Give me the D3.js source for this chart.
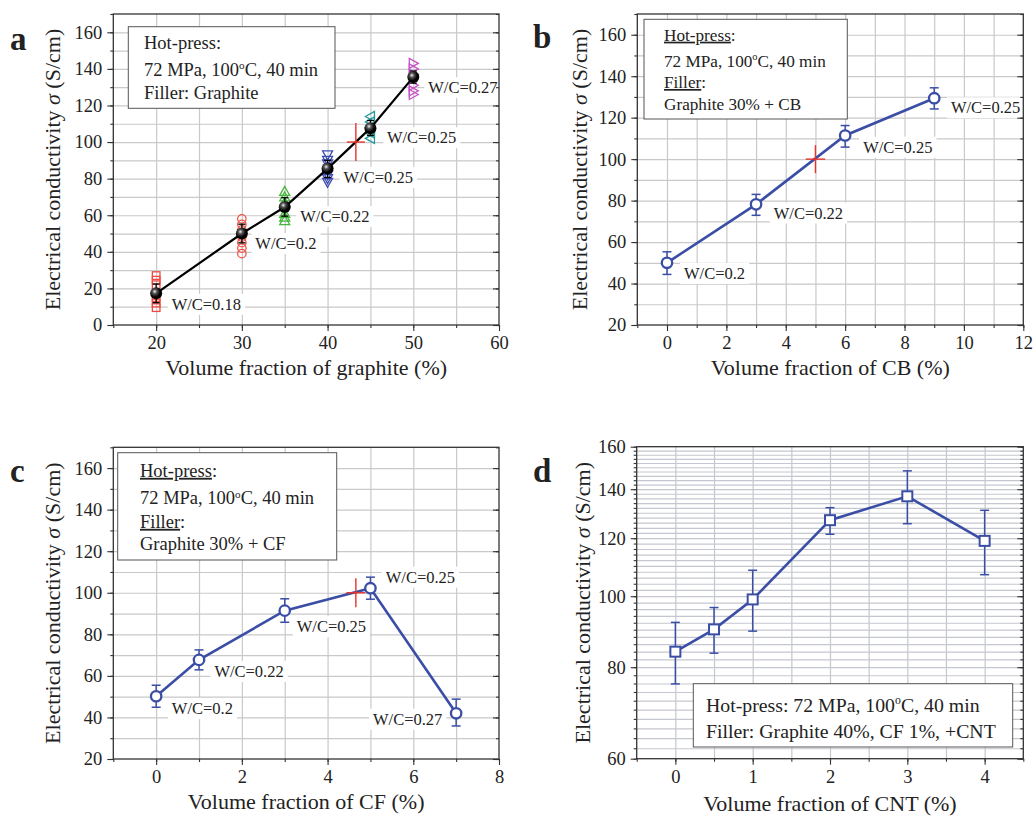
<!DOCTYPE html>
<html>
<head>
<meta charset="utf-8">
<script src="https://cdn.jsdelivr.net/npm/d3@7"></script>
<style>
  body { margin: 0; background: #fff; }
  text { font-family: "Liberation Serif", "Times New Roman", serif; fill: #222; }
</style>
</head>
<body>
<script>
// ---- panel a: graphite only
var graphiteFrac = [20, 30, 35, 40, 45, 50]
var graphiteMean = [17.3, 50, 64.5, 85.5, 107.6, 135.5]
var graphiteLo = [12.2, 44.9, 59.5, 80.6, 103.6, 132.2]
var graphiteHi = [22.4, 55.1, 69.6, 90.0, 111.8, 138.8]
var graphiteWC = ["W/C=0.18", "W/C=0.2", "W/C=0.22", "W/C=0.25", "W/C=0.25", "W/C=0.27"]
// individual samples at each graphite fraction
var graphiteSamples = [
  [27, 24.5, 22, 15, 12, 9.5],
  [58, 55, 52, 48, 45, 42, 39],
  [73, 70, 67, 61, 59, 57],
  [93, 90, 88, 82, 80, 78],
  [114, 111, 108, 105, 102],
  [143, 140, 137, 131, 128, 126]
]
var graphiteTarget = [43.3, 100]
var notesA = ["Hot-press:", "72 MPa, 100°C, 40 min", "Filler: Graphite"]

// ---- panel b: graphite 30% + CB
var cbFrac = [0, 3, 6, 9]
var cbMean = [50, 78.2, 111.4, 129.4]
var cbLo = [44.4, 72.9, 105.8, 124.2]
var cbHi = [55.3, 83.0, 116.2, 134.4]
var cbWC = ["W/C=0.2", "W/C=0.22", "W/C=0.25", "W/C=0.25"]
var cbTarget = [5, 100]
var notesB = ["Hot-press:", "72 MPa, 100°C, 40 min", "Filler:", "Graphite 30% + CB"]

// ---- panel c: graphite 30% + CF
var cfFrac = [0, 1, 3, 5, 7]
var cfMean = [50.2, 67.7, 91.4, 102.2, 42.0]
var cfLo = [44.9, 62.9, 85.8, 96.9, 35.9]
var cfHi = [55.5, 72.5, 97.1, 107.5, 48.8]
var cfWC = ["W/C=0.2", "W/C=0.22", "W/C=0.25", "W/C=0.25", "W/C=0.27"]
var cfTarget = [4.66, 100]
var notesC = ["Hot-press:", "72 MPa, 100°C, 40 min", "Filler:", "Graphite 30% + CF"]

// ---- panel d: graphite 40%, CF 1%, + CNT (log y)
var cntFrac = [0, 0.5, 1, 2, 3, 4]
var cntMean = [84.0, 90.1, 99.0, 127.0, 136.9, 119.0]
var cntLo = [75.9, 83.6, 89.6, 121.5, 125.6, 107.0]
var cntHi = [92.1, 96.5, 108.5, 132.1, 148.3, 131.0]
var notesD = ["Hot-press: 72 MPa, 100°C, 40 min", "Filler: Graphite 40%, CF 1%, +CNT"]

var yTitle = "Electrical conductivity"

var BLUE = "#3b4ea5", GRID = "#c9c9c9", FRAME = "#333"

var svg = d3.select("body").append("svg")
  .attr("width", 1033)
  .attr("height", 816)

var defs = svg.append("defs")
var grad = defs.append("radialGradient").attr("id", "ball")
  .attr("cx", "38%").attr("cy", "35%").attr("r", "65%")
grad.append("stop").attr("offset", "0%").attr("stop-color", "#f4f4f4")
grad.append("stop").attr("offset", "28%").attr("stop-color", "#555")
grad.append("stop").attr("offset", "70%").attr("stop-color", "#000")

function range(a, b, s) {
  return d3.range(a, b + s / 2, s)
}

// write a text line, with superscript "o" for the degree sign and an optional underlined head
function writeLine(t, str, underline) {
  if (underline && str.endsWith(":")) {
    t.append("tspan").attr("text-decoration", "underline").text(str.slice(0, -1))
    t.append("tspan").text(":")
    return
  }
  var parts = str.split("°")
  parts.forEach(function (p, i) {
    if (i > 0) {
      t.append("tspan").attr("dy", "-0.6em").attr("font-size", "0.6em").text("o")
      t.append("tspan").attr("dy", "0.36em").text(p)
    } else {
      t.append("tspan").text(p)
    }
  })
}

function drawPanel(cfg) {
  var x = cfg.x, y = cfg.y
  var x0 = x.range()[0], x1 = x.range()[1]
  var yb = y.range()[0], yt = y.range()[1]
  var g = svg.append("g")

  // gridlines
  g.append("g").attr("transform", "translate(0," + yb + ")")
    .call(d3.axisBottom(x).tickValues(cfg.xGrid).tickSize(-(yb - yt)).tickFormat(""))
    .call(function (s) { s.select(".domain").remove() })
    .selectAll("line").attr("stroke", cfg.gridColor || GRID).attr("stroke-width", 1.2)
  g.append("g").attr("transform", "translate(" + x0 + ",0)")
    .call(d3.axisLeft(y).tickValues(cfg.yGrid).tickSize(-(x1 - x0)).tickFormat(""))
    .call(function (s) { s.select(".domain").remove() })
    .selectAll("line").attr("stroke", cfg.gridColor || GRID).attr("stroke-width", 1.2)

  // point labels with white background
  cfg.labels.forEach(function (lb) {
    var px = x(lb.at[0]) + lb.dx, py = y(lb.at[1]) + lb.dy
    var lg = g.append("g")
    var t = lg.append("text")
      .attr("x", px).attr("y", py + 5.5)
      .attr("text-anchor", lb.anchor || "start")
      .style("font-size", "16.5px")
      .text(lb.text)
    var bb = t.node().getBBox()
    lg.insert("rect", "text")
      .attr("x", bb.x - 4).attr("y", bb.y - 1)
      .attr("width", bb.width + 8).attr("height", bb.height + 2)
      .attr("fill", "#fff")
  })

  // notes box
  var nb = cfg.notes
  g.append("rect")
    .attr("x", nb.box[0]).attr("y", nb.box[1])
    .attr("width", nb.box[2] - nb.box[0]).attr("height", nb.box[3] - nb.box[1])
    .attr("fill", "#fff").attr("stroke", "#555").attr("stroke-width", 1)
  nb.lines.forEach(function (ln, i) {
    var t = g.append("text")
      .attr("x", nb.tx).attr("y", nb.ty[i] + nb.size * 0.33)
      .style("font-size", nb.size + "px")
    writeLine(t, ln, nb.underline)
  })

  cfg.draw(g, x, y)

  // ticks
  function tickAxis(axis, tr, vals, size, labels) {
    var a = g.append("g").attr("transform", tr)
      .call(axis.tickValues(vals).tickSize(size).tickPadding(5)
        .tickFormat(labels ? d3.format("d") : ""))
    a.select(".domain").remove()
    a.selectAll("line").attr("stroke", FRAME).attr("stroke-width", 1.1)
    a.selectAll("text").attr("font-family", null).style("font-size", "18.5px").attr("fill", "#222")
    return a
  }
  tickAxis(d3.axisBottom(x), "translate(0," + yb + ")", cfg.xMinor, 3, false)
  tickAxis(d3.axisBottom(x), "translate(0," + yb + ")", cfg.xMajor, 6, true)
  tickAxis(d3.axisLeft(y), "translate(" + x0 + ",0)", cfg.yMinor, 3, false)
  tickAxis(d3.axisLeft(y), "translate(" + x0 + ",0)", cfg.yMajor, 6, true)
  tickAxis(d3.axisLeft(y), "translate(" + x1 + ",0)", cfg.yMinor, 3, false)
  tickAxis(d3.axisLeft(y), "translate(" + x1 + ",0)", cfg.yMajor, 6, false)

  // frame
  g.append("rect")
    .attr("x", x0).attr("y", yt).attr("width", x1 - x0).attr("height", yb - yt)
    .attr("fill", "none").attr("stroke", FRAME).attr("stroke-width", 1.3)

  // axis titles
  g.append("text")
    .attr("x", (x0 + x1) / 2).attr("y", cfg.xTitleY + 7)
    .attr("text-anchor", "middle").style("font-size", "22px")
    .text(cfg.xTitle)
  var yt2 = g.append("text")
    .attr("transform", "translate(" + (cfg.yTitleX + 7) + "," + ((yb + yt) / 2) + ") rotate(-90)")
    .attr("text-anchor", "middle").style("font-size", "22px")
  yt2.append("tspan").text(yTitle + " ")
  yt2.append("tspan").style("font-style", "italic").text("σ")
  yt2.append("tspan").text(" (S/cm)")

  // panel letter
  g.append("text")
    .attr("x", cfg.letter[0]).attr("y", cfg.letter[1])
    .style("font-size", "33px").style("font-weight", "bold")
    .text(cfg.letter[2])
}

// blue series: line, error bars, open markers
function blueSeries(xs, ys, lo, hi, marker) {
  return function (g, x, y) {
    var pts = xs.map(function (v, i) { return [v, ys[i]] })
    g.append("path").datum(pts)
      .attr("d", d3.line().x(function (d) { return x(d[0]) }).y(function (d) { return y(d[1]) }))
      .attr("fill", "none").attr("stroke", BLUE).attr("stroke-width", 2.6)
    xs.forEach(function (v, i) {
      var cx = x(v)
      g.append("line").attr("x1", cx).attr("x2", cx).attr("y1", y(lo[i])).attr("y2", y(hi[i]))
        .attr("stroke", BLUE).attr("stroke-width", 1.5)
      ;[lo[i], hi[i]].forEach(function (e) {
        g.append("line").attr("x1", cx - 4.5).attr("x2", cx + 4.5).attr("y1", y(e)).attr("y2", y(e))
          .attr("stroke", BLUE).attr("stroke-width", 1.5)
      })
      if (marker === "square") {
        g.append("rect").attr("x", cx - 5).attr("y", y(ys[i]) - 5).attr("width", 10).attr("height", 10)
          .attr("fill", "#fff").attr("stroke", BLUE).attr("stroke-width", 2)
      } else {
        g.append("circle").attr("cx", cx).attr("cy", y(ys[i])).attr("r", 5.2)
          .attr("fill", "#fff").attr("stroke", BLUE).attr("stroke-width", 2.3)
      }
    })
  }
}

function redCross(g, x, y, pt, hx, hy) {
  var cx = x(pt[0]), cy = y(pt[1])
  g.append("line").attr("x1", cx - hx).attr("x2", cx + hx).attr("y1", cy).attr("y2", cy)
    .attr("stroke", "#e8322a").attr("stroke-width", 1.4)
  g.append("line").attr("x1", cx).attr("x2", cx).attr("y1", cy - hy).attr("y2", cy + hy)
    .attr("stroke", "#e8322a").attr("stroke-width", 1.4)
}

function lbls(xs, ys, texts, offs) {
  return texts.map(function (t, i) {
    var o = offs[i]
    return { text: t, at: [xs[i], ys[i]], dx: o[0], dy: o[1], anchor: o[2] }
  })
}

// ---------- panel a
var sampleStyle = [
  { shape: "square", color: "#ee4a42" },
  { shape: "circle", color: "#ef5448" },
  { shape: "up", color: "#46b53c" },
  { shape: "down", color: "#3b4cb2" },
  { shape: "left", color: "#23999a" },
  { shape: "right", color: "#c852c9" }
]
var shapePath = {
  up: "M0,-5L5,4L-5,4Z",
  down: "M0,5L5,-4L-5,-4Z",
  left: "M-5,0L4,-5L4,5Z",
  right: "M5,0L-4,-5L-4,5Z"
}

drawPanel({
  x: d3.scaleLinear().domain([15, 60]).range([113.3, 499]),
  y: d3.scaleLinear().domain([0, 170]).range([325, 14]),
  xGrid: range(20, 55, 5), yGrid: range(10, 160, 10),
  xMajor: range(20, 60, 10), xMinor: range(15, 60, 5),
  yMajor: range(0, 160, 20), yMinor: range(0, 170, 10),
  xTitle: "Volume fraction of graphite (%)", xTitleY: 368.3, yTitleX: 53.3,
  letter: [10, 50, "a"],
  labels: lbls(graphiteFrac, graphiteMean, graphiteWC,
    [[15.5, 11], [13.5, 10], [15.5, 9.5], [16, 9], [16.5, 9.6], [15, 10.6]]),
  notes: { box: [128.3, 26.7, 335, 108.3], tx: 144, ty: [42.7, 70, 92.7], size: 18.5, lines: notesA },
  draw: function (g, x, y) {
    graphiteSamples.forEach(function (vals, i) {
      var st = sampleStyle[i], cx = x(graphiteFrac[i])
      vals.forEach(function (v) {
        var cy = y(v)
        if (st.shape === "square") {
          g.append("rect").attr("x", cx - 3.8).attr("y", cy - 3.8).attr("width", 7.6).attr("height", 7.6)
            .attr("fill", "none").attr("stroke", st.color).attr("stroke-width", 1.3)
        } else if (st.shape === "circle") {
          g.append("circle").attr("cx", cx).attr("cy", cy).attr("r", 4.2)
            .attr("fill", "none").attr("stroke", st.color).attr("stroke-width", 1.3)
        } else {
          g.append("path").attr("transform", "translate(" + cx + "," + cy + ")")
            .attr("d", shapePath[st.shape])
            .attr("fill", "none").attr("stroke", st.color).attr("stroke-width", 1.3)
        }
      })
    })
    var pts = graphiteFrac.map(function (v, i) { return [v, graphiteMean[i]] })
    g.append("path").datum(pts)
      .attr("d", d3.line().x(function (d) { return x(d[0]) }).y(function (d) { return y(d[1]) }))
      .attr("fill", "none").attr("stroke", "#000").attr("stroke-width", 2.2)
    redCross(g, x, y, graphiteTarget, 9, 19)
    graphiteFrac.forEach(function (v, i) {
      var cx = x(v)
      g.append("line").attr("x1", cx).attr("x2", cx).attr("y1", y(graphiteLo[i])).attr("y2", y(graphiteHi[i]))
        .attr("stroke", "#000").attr("stroke-width", 1.3)
      ;[graphiteLo[i], graphiteHi[i]].forEach(function (e) {
        g.append("line").attr("x1", cx - 3.5).attr("x2", cx + 3.5).attr("y1", y(e)).attr("y2", y(e))
          .attr("stroke", "#000").attr("stroke-width", 1.3)
      })
      g.append("circle").attr("cx", cx).attr("cy", y(graphiteMean[i])).attr("r", 6)
        .attr("fill", "url(#ball)")
    })
  }
})

// ---------- panel b
drawPanel({
  x: d3.scaleLinear().domain([-1, 12]).range([637.3, 1023.3]),
  y: d3.scaleLinear().domain([20, 170]).range([325, 14]),
  xGrid: range(0, 11, 1), yGrid: range(30, 160, 10),
  xMajor: range(0, 12, 2), xMinor: range(-1, 12, 1),
  yMajor: range(20, 160, 20), yMinor: range(20, 170, 10),
  xTitle: "Volume fraction of CB (%)", xTitleY: 368.3, yTitleX: 580,
  letter: [533, 48, "b"],
  labels: lbls(cbFrac, cbMean, cbWC, [[17, 10.6], [17.7, 8.7], [18, 11.7], [16.7, 9.6]]),
  notes: { box: [644, 19.3, 847.3, 119], tx: 664, ty: [35, 61, 82.3, 104.3], size: 17.2, lines: notesB, underline: true },
  draw: function (g, x, y) {
    blueSeries(cbFrac, cbMean, cbLo, cbHi, "circle")(g, x, y)
    redCross(g, x, y, cbTarget, 9.7, 14)
  }
})

// ---------- panel c
drawPanel({
  x: d3.scaleLinear().domain([-1, 8]).range([113.3, 499]),
  y: d3.scaleLinear().domain([20, 170]).range([759, 447.3]),
  xGrid: range(0, 7, 1), yGrid: range(30, 160, 10),
  xMajor: range(0, 8, 2), xMinor: range(-1, 8, 1),
  yMajor: range(20, 160, 20), yMinor: range(20, 170, 10),
  xTitle: "Volume fraction of CF (%)", xTitleY: 801.7, yTitleX: 53.3,
  letter: [10, 481.7, "c"],
  labels: lbls(cfFrac, cfMean, cfWC,
    [[15.7, 12.3], [15.4, 11.7], [12, 16], [15.3, -11], [-13.8, 6, "end"]]),
  notes: { box: [117.7, 452.7, 336.7, 560], tx: 140, ty: [470.7, 498.3, 521.7, 544], size: 18.5, lines: notesC, underline: true },
  draw: function (g, x, y) {
    blueSeries(cfFrac, cfMean, cfLo, cfHi, "circle")(g, x, y)
    redCross(g, x, y, cfTarget, 9.5, 14.5)
  }
})

// ---------- panel d
drawPanel({
  x: d3.scaleLinear().domain([-0.5, 4.5]).range([636.7, 1023.3]),
  y: d3.scaleLog().domain([60, 160]).range([758.7, 446.7]),
  xGrid: range(0, 4, 0.5), yGrid: range(62, 158, 2),
  xMajor: range(0, 4, 1), xMinor: range(-0.5, 4.5, 0.5),
  yMajor: range(60, 160, 20), yMinor: range(60, 160, 2),
  gridColor: "#c4c7cf",
  xTitle: "Volume fraction of CNT (%)", xTitleY: 803.5, yTitleX: 583.3,
  letter: [533, 481.7, "d"],
  labels: [],
  notes: { box: [693.3, 683.7, 1012.7, 747], tx: 706, ty: [705, 731], size: 19.8, lines: notesD },
  draw: blueSeries(cntFrac, cntMean, cntLo, cntHi, "square")
})
</script>
</body>
</html>
